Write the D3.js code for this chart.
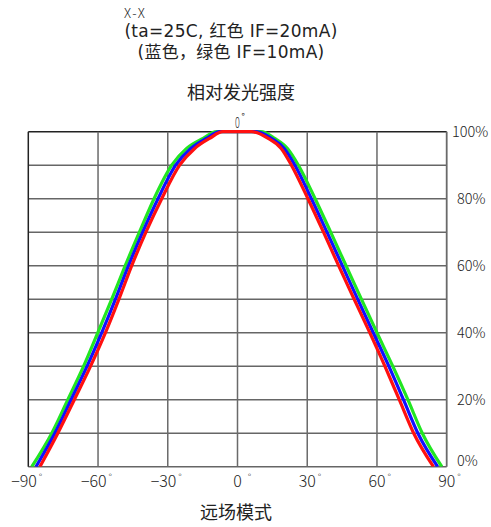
<!DOCTYPE html>
<html><head><meta charset="utf-8">
<script src="https://cdn.jsdelivr.net/npm/d3@7/dist/d3.min.js"></script>
<style>
body{margin:0;background:#fff;}
svg{display:block;}
text{font-family:"Noto Sans CJK JP","Noto Sans CJK SC",sans-serif;fill:#222;}
.lat{font-family:"DejaVu Sans","Noto Sans CJK SC",sans-serif;}
</style></head>
<body>
<script>
// ---- data ----
const levels = [0, 10, 20, 30, 40, 50, 60, 70, 80, 90, 95, 98, 100];
const greenLeft  = [-88.5, -79.9, -73.0, -66.2, -60.1, -54.1, -48.3, -42.2, -35.9, -28.3, -21.9, -14.8, -9.0];
const greenRight = [87.9, 79.5, 73.3, 66.8, 60.0, 53.3, 46.7, 40.1, 33.4, 26.2, 21.5, 16.0, 10.0];
const blueLeft   = [-86.7, -78.6, -71.6, -64.7, -58.4, -52.5, -46.9, -40.8, -34.2, -26.6, -20.1, -13.4, -7.6];
const blueRight  = [86.1, 77.6, 71.4, 65.1, 58.4, 51.7, 45.1, 38.5, 31.8, 24.7, 20.1, 14.6, 8.0];
const redLeft    = [-85.0, -77.3, -70.2, -63.2, -56.8, -51.0, -45.5, -39.4, -32.6, -24.9, -18.4, -12.0, -6.3];
const redRight   = [84.3, 75.8, 69.6, 63.4, 56.9, 50.2, 43.5, 37.0, 30.3, 23.2, 18.8, 13.2, 6.0];
const xTicks = [-90, -60, -30, 0, 30, 60, 90];
const yGrid = [0, 10, 20, 30, 40, 50, 60, 70, 80, 90, 100];
const yLabels = [0, 20, 40, 60, 80, 100];
const titleLines = ["X-X", "(ta=25C, 红色 IF=20mA)", "(蓝色，绿色 IF=10mA)"];
const yTitle = "相对发光强度";
const xTitle = "远场模式";
const series = [
  {name: "green", color: "#22e622", left: greenLeft, right: greenRight},
  {name: "blue",  color: "#1010ff", left: blueLeft,  right: blueRight},
  {name: "red",   color: "#ff1010", left: redLeft,   right: redRight}
];

const W = 491, H = 527;
const svg = d3.select("body").append("svg").attr("width", W).attr("height", H);
const x = d3.scaleLinear().domain([-90, 90]).range([28.3, 446.7]);
const y = d3.scaleLinear().domain([0, 100]).range([466.7, 131.7]);

// titles
svg.append("text").attr("x", 124).attr("y", 18).attr("font-size", 13).attr("font-weight", 300)
  .attr("fill", "#333").attr("letter-spacing", 1.5).text(titleLines[0]);
svg.append("text").attr("class", "lat").attr("x", 231).attr("y", 37).attr("text-anchor", "middle")
  .attr("font-size", 17).attr("letter-spacing", 0.3).text(titleLines[1]);
svg.append("text").attr("class", "lat").attr("x", 231).attr("y", 58).attr("text-anchor", "middle")
  .attr("font-size", 17).attr("letter-spacing", 0.3).text(titleLines[2]);
svg.append("text").attr("x", 241).attr("y", 99).attr("text-anchor", "middle").attr("font-size", 18).text(yTitle);
svg.append("text").attr("x", 236).attr("y", 519).attr("text-anchor", "middle").attr("font-size", 18).text(xTitle);

// grid
const g = svg.append("g");
g.selectAll("line.h").data(yGrid).join("line")
  .attr("x1", x(-90)).attr("x2", x(90)).attr("y1", d => y(d)).attr("y2", d => y(d))
  .attr("stroke", d => d === 100 ? "#222" : "#666").attr("stroke-width", 1.4);
g.selectAll("line.v").data(xTicks).join("line")
  .attr("x1", d => x(d)).attr("x2", d => x(d)).attr("y1", y(100)).attr("y2", y(0))
  .attr("stroke", d => d === -90 ? "#222" : "#6a6a6a").attr("stroke-width", d => (d === 90 ? 1.8 : 1.5));

// curves
svg.append("clipPath").attr("id", "clip").append("rect")
  .attr("x", x(-90)).attr("y", y(100) - 3).attr("width", x(90) - x(-90)).attr("height", y(0) - y(100) + 3);
const line = d3.line().x(d => x(d[0])).y(d => y(d[1])).curve(d3.curveMonotoneX);
const cg = svg.append("g").attr("clip-path", "url(#clip)");
series.forEach(s => {
  const pts = levels.map((l, i) => [s.left[i], l])
    .concat(levels.map((l, i) => [s.right[i], l]).reverse());
  cg.append("path").attr("d", line(pts)).attr("fill", "none")
    .attr("stroke", s.color).attr("stroke-width", 3.2).attr("stroke-linejoin", "round");
});

// x tick labels
function measure(str, size) {
  const t = svg.append("text").attr("font-size", size).attr("font-weight", 300).text(str);
  const w = t.node().getComputedTextLength(); t.remove(); return w;
}
xTicks.forEach(t => {
  const num = String(Math.abs(t));
  const wd = measure(num, 16), wm = measure("−", 16);
  const startX = x(t) - wd / 2 - (t < 0 ? wm : 0);
  const tx = svg.append("text").attr("x", startX).attr("y", 487).attr("font-size", 16)
    .attr("font-weight", 300).attr("fill", "#333").text((t < 0 ? "−" : "") + num);
  tx.append("tspan").attr("dx", t === 0 ? 6 : 2).attr("dy", -6).attr("font-size", 10).text("°");
});

// top 0° label
svg.append("text").attr("font-size", 15).attr("font-weight", 300)
  .attr("transform", `translate(${x(0)},128) scale(0.6,1)`).attr("text-anchor", "middle").attr("fill", "#333").text("0");
svg.append("text").attr("x", x(0) + 4).attr("y", 120).attr("font-size", 9).attr("fill", "#333").text("°");

// y labels (right)
yLabels.forEach(v => {
  const lx = v === 100 ? 452 : 457;
  const ly = v === 0 ? y(v) - 6 : y(v);
  svg.append("text").attr("x", lx).attr("y", ly).attr("dy", "0.36em")
    .attr("font-size", 14.5).attr("font-weight", 300).attr("fill", "#333").text(v + "%");
});
</script>
</body></html>
